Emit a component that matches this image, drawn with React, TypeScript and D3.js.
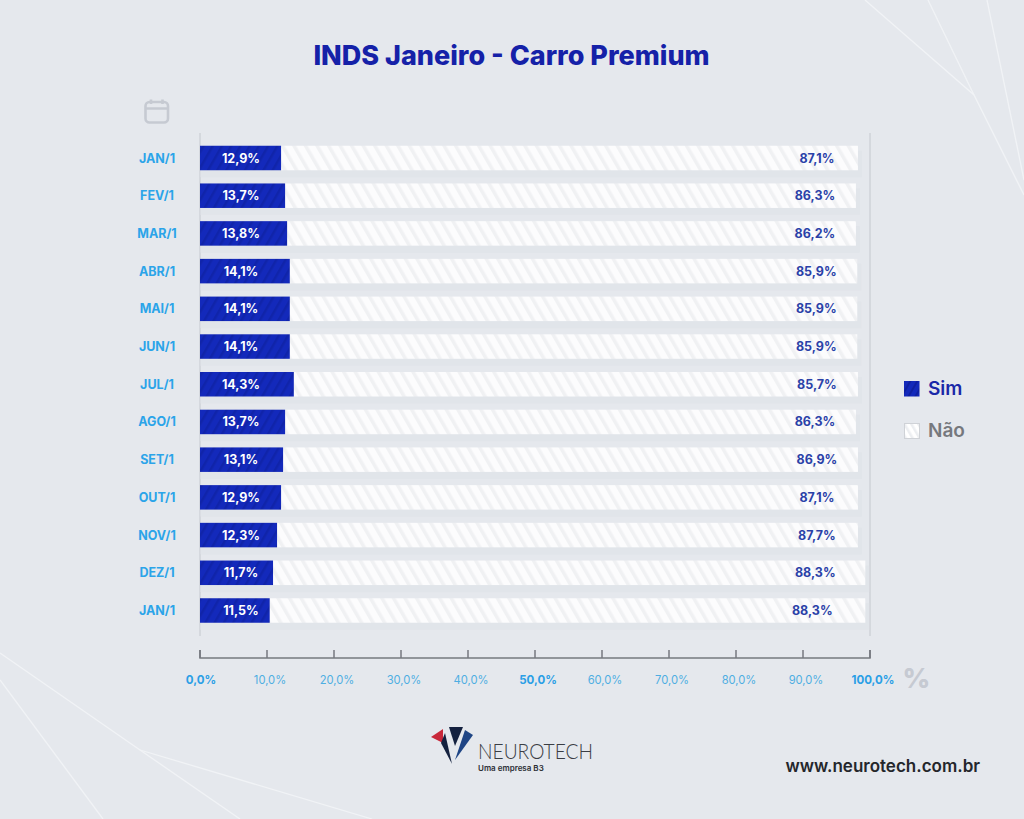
import React from "react";
import * as d3 from "d3";

// Row labels and the values printed on the bars
const months = ["JAN/1", "FEV/1", "MAR/1", "ABR/1", "MAI/1", "JUN/1", "JUL/1", "AGO/1", "SET/1", "OUT/1", "NOV/1", "DEZ/1", "JAN/1"];
const simLabels = ["12,9%", "13,7%", "13,8%", "14,1%", "14,1%", "14,1%", "14,3%", "13,7%", "13,1%", "12,9%", "12,3%", "11,7%", "11,5%"];
const naoLabels = ["87,1%", "86,3%", "86,2%", "85,9%", "85,9%", "85,9%", "85,7%", "86,3%", "86,9%", "87,1%", "87,7%", "88,3%", "88,3%"];
// Lengths of the bars as drawn, read against the axis (the picture's bars differ from the printed values)
const simDrawn = [12.1, 12.7, 13.0, 13.4, 13.4, 13.4, 14.0, 12.7, 12.4, 12.1, 11.5, 10.9, 10.4];
const totalDrawn = [98.2, 97.9, 97.9, 98.1, 98.1, 98.1, 98.2, 97.9, 98.2, 98.2, 98.2, 99.3, 99.3];
const ticks = [0, 10, 20, 30, 40, 50, 60, 70, 80, 90, 100];
const boldTicks = [0, 50, 100];

const FONT = "Inter, 'Open Sans', sans-serif";
const BG = "#e5e8ed";

export default function App() {
  const x = d3.scaleLinear().domain([0, 100]).range([200, 870]);
  const y = d3.scalePoint<number>().domain(months.map((_, i) => i)).range([158, 610.5]);
  const barH = 24.5;
  const deco = d3.line();
  const decoLines: [number, number][][] = [
    [[865, 0], [974, 95], [1024, 195]],
    [[928, 0], [974, 95]],
    [[987, 0], [1024, 180]],
    [[0, 653], [140, 750], [240, 819]],
    [[140, 750], [372, 819]],
    [[0, 680], [103, 819]],
  ];
  return (
    <svg width={1024} height={819} viewBox="0 0 1024 819" style={{ position: "absolute", left: 0, top: 0, background: BG, fontFamily: FONT }}>
      <defs>
        <pattern id="simP" width={8} height={8} patternUnits="userSpaceOnUse" patternTransform="rotate(30)">
          <rect width={8} height={8} fill="#1329bb" />
          <rect width={2.5} height={8} fill="#1024aa" />
        </pattern>
        <pattern id="naoP" width={10} height={10} patternUnits="userSpaceOnUse" patternTransform="rotate(-30)">
          <rect width={10} height={10} fill="#fcfcfd" />
          <rect width={3.5} height={10} fill="#f0f1f3" />
        </pattern>
        <pattern id="simL" width={6} height={6} patternUnits="userSpaceOnUse" patternTransform="rotate(30)">
          <rect width={6} height={6} fill="#1329bb" />
          <rect width={2} height={6} fill="#0f20a0" />
        </pattern>
        <pattern id="naoL" width={6} height={6} patternUnits="userSpaceOnUse" patternTransform="rotate(-30)">
          <rect width={6} height={6} fill="#ffffff" />
          <rect width={2.5} height={6} fill="#eceef1" />
        </pattern>
      </defs>

      {decoLines.map((l, i) => (
        <path key={i} d={deco(l) ?? ""} fill="none" stroke="#f1f3f6" strokeWidth={1.3} />
      ))}

      <text x={511.5} y={65} textAnchor="middle" fontSize={27} fontWeight={800} fill="#1521a8">INDS Janeiro - Carro Premium</text>

      {/* Calendar icon */}
      <g fill="none" stroke="#c6cad2" strokeWidth={2.6}>
        <rect x={145.5} y={102} width={22.5} height={20.5} rx={4} />
        <path d="M146 108.5H168M151 99.5V104M162.5 99.5V104" />
      </g>

      {/* Frame lines */}
      <line x1={x(0)} x2={x(0)} y1={133} y2={636} stroke="#c4c8ce" />
      <line x1={x(100)} x2={x(100)} y1={133} y2={636} stroke="#c4c8ce" />

      {months.map((m, i) => {
        const cy = y(i) as number;
        const top = cy - barH / 2;
        const naoX = x(totalDrawn[i]) - (i === 12 ? 53 : i === 11 ? 50 : 41);
        return (
          <g key={i}>
            <rect x={x(0)} y={top + 5} width={x(totalDrawn[i]) - x(0) + 4} height={barH + 2} fill="#dfe2e7" opacity={0.55} />
            <rect x={x(simDrawn[i])} y={top} width={x(totalDrawn[i]) - x(simDrawn[i])} height={barH} fill="url(#naoP)" />
            <rect x={x(0)} y={top} width={x(simDrawn[i]) - x(0)} height={barH} fill="url(#simP)" />
            <text x={157} y={cy + 4.5} textAnchor="middle" fontSize={12.5} fontWeight={700} fill="#2ba4e9">{m}</text>
            <text x={241} y={cy + 4.5} textAnchor="middle" fontSize={12.5} fontWeight={700} fill="#ffffff">{simLabels[i]}</text>
            <text x={naoX} y={cy + 4.5} textAnchor="middle" fontSize={12.5} fontWeight={700} fill="#2a41a8">{naoLabels[i]}</text>
          </g>
        );
      })}

      {/* Axis */}
      <path d={`M${x(0)} 650V658H${x(100)}V650`} fill="none" stroke="#76797f" strokeWidth={1.5} />
      {ticks.map((t) => {
        const bold = boldTicks.includes(t);
        return (
          <g key={t}>
            <line x1={x(t)} x2={x(t)} y1={650} y2={658} stroke="#76797f" strokeWidth={1.5} />
            <text x={x(t) + (t === 0 ? 1 : 3)} y={684} textAnchor="middle" fontSize={bold ? 11.5 : 11.2} fontWeight={bold ? 700 : 400} fill={bold ? "#2b9fe6" : "#4eaee2"}>
              {t.toFixed(1).replace(".", ",")}%
            </text>
          </g>
        );
      })}
      <text x={916.5} y={688} textAnchor="middle" fontSize={27} fontWeight={800} fill="#c6cad2">%</text>

      {/* Legend */}
      <rect x={904} y={381} width={15.5} height={15.5} fill="url(#simL)" />
      <text x={928} y={395} fontSize={19} fontWeight={600} fill="#1a28a8">Sim</text>
      <rect x={904.5} y={423.5} width={15} height={15} fill="url(#naoL)" stroke="#cfd2d7" />
      <text x={928} y={437} fontSize={19} fontWeight={600} fill="#76787d">Não</text>

      {/* Logo */}
      <polygon points="431,737 443,729 443,743" fill="#c8283a" />
      <polygon points="441,743 445,733 452,764" fill="#14213f" />
      <polygon points="449,727 463,727 455,746" fill="#14213f" />
      <polygon points="465,730 473,735 455,760" fill="#1f4585" />
      <text x={478} y={759} fontSize={22} fontWeight={300} fill="#3a3d44" fontFamily="Lato, sans-serif" textLength={115} lengthAdjust="spacingAndGlyphs">NEUROTECH</text>
      <text x={478} y={771} fontSize={8} fontWeight={600} fill="#2c2f36">Uma empresa B3</text>

      <text x={980} y={772} textAnchor="end" fontSize={17} fontWeight={600} fill="#24262b">www.neurotech.com.br</text>
    </svg>
  );
}
